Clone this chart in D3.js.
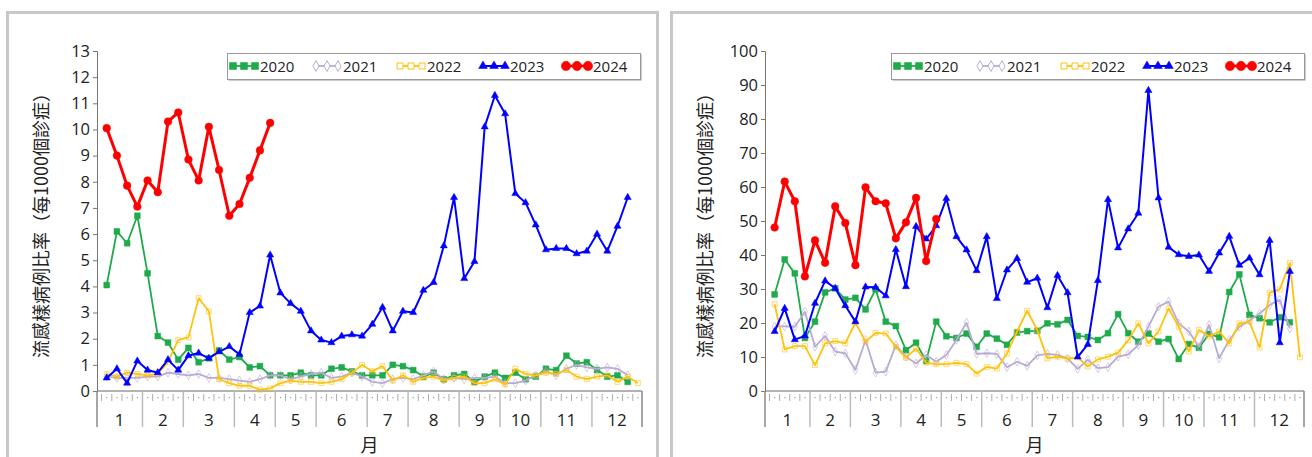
<!DOCTYPE html>
<html lang="zh-Hant">
<head>
<meta charset="utf-8">
<title>流感樣病例比率</title>
<script src="https://d3js.org/d3.v7.min.js"></script>
<style>
body{margin:0;background:#fff;font-family:"Open Sans",sans-serif;}
svg{display:block;}
</style>
</head>
<body>
<div id="chart"></div>
<script>
// --- data (weekly values) ---
var years = ["2020","2021","2022","2023","2024"]
var months = ["1","2","3","4","5","6","7","8","9","10","11","12"]
var monthEnds = [4.5,8.5,13.5,17.5,21.5,26.5,30.5,35.5,39.5,43.5,48.5,53.4]
var leftTicks = [0,1,2,3,4,5,6,7,8,9,10,11,12,13]
var rightTicks = [0,10,20,30,40,50,60,70,80,90,100]

var left2020 = [4.05,6.1,5.65,6.7,4.5,2.1,1.85,1.2,1.65,1.1,1.25,1.55,1.2,1.3,0.9,0.95,0.6,0.6,0.6,0.7,0.6,0.6,0.85,0.9,0.75,0.6,
  0.6,0.6,1.0,0.95,0.8,0.55,0.7,0.45,0.6,0.65,0.35,0.55,0.7,0.5,0.7,0.45,0.55,0.85,0.8,1.35,1.05,1.1,0.8,0.55,0.6,0.35]
var left2021 = [0.55,0.5,0.5,0.5,0.55,0.55,0.7,0.65,0.6,0.65,0.5,0.5,0.45,0.4,0.35,0.45,0.6,0.6,0.45,0.55,0.65,0.7,0.5,0.55,0.7,0.55,
  0.35,0.3,0.45,0.5,0.45,0.6,0.75,0.45,0.5,0.45,0.5,0.5,0.55,0.3,0.3,0.4,0.6,0.75,0.6,0.85,1.0,0.9,0.85,0.9,0.85,0.6]
var left2022 = [0.65,0.55,0.7,0.65,0.6,0.65,1.1,1.95,2.05,3.55,3.05,0.45,0.3,0.2,0.2,0.05,0.1,0.3,0.4,0.35,0.35,0.3,0.35,0.45,0.7,1.0,
  0.75,0.95,0.4,0.6,0.35,0.5,0.55,0.4,0.5,0.55,0.3,0.3,0.45,0.25,0.85,0.65,0.6,0.7,0.65,0.8,0.55,0.45,0.55,0.6,0.35,0.55,0.3]
var left2023 = [0.5,0.85,0.3,1.15,0.8,0.7,1.2,0.8,1.35,1.45,1.25,1.5,1.7,1.4,3.0,3.25,5.2,3.75,3.35,3.05,2.3,1.95,1.85,2.1,2.15,2.1,
  2.55,3.2,2.3,3.05,3.0,3.85,4.15,5.55,7.4,4.3,4.95,10.1,11.3,10.6,7.55,7.2,6.35,5.4,5.45,5.45,5.25,5.35,6.0,5.35,6.3,7.4]
var left2024 = [10.05,9.0,7.85,7.05,8.05,7.6,10.3,10.65,8.85,8.05,10.1,8.45,6.7,7.15,8.15,9.2,10.25]

var right2020 = [28.4,38.7,34.6,15.6,20.4,29,30.2,26.9,27.4,24,29.9,20.4,19.1,12,14.2,8.8,20.4,16.1,15.6,16.9,13,16.9,15.4,13.6,17.2,17.6,
  17.7,19.9,19.6,20.9,16.2,15.9,15,17,22.6,17,14.5,16.9,14.5,15.3,9.4,13.8,12.7,16.8,15.8,29.1,34.3,22.4,21.4,20.2,21.7,20.2]
var right2021 = [19,19,18.9,23.3,13,16.2,11.6,11.1,6.2,15,5.4,5.7,13.5,10.1,8.1,10.6,8.6,10.6,15,20.1,10.9,11.1,10.9,7,8.6,7.4,
  10.5,10.9,10.6,9.6,6.5,9.2,6.7,7,10.1,10.8,13.5,18.9,24.8,26.3,19.9,17.5,13,19.4,9.6,15,18.9,20.7,22.8,25.3,26.8,18.4]
var right2022 = [25.5,12.2,13.2,13.2,7.6,14,14.7,14,20.1,14.5,17.1,16.9,13,9.8,12.5,8.3,7.9,7.9,8.3,7.9,5.1,7.1,6.6,11,17.5,23.6,
  17.9,9.6,10.1,9.5,9.9,7.2,9.3,10.1,11.3,14.9,19.9,14,17.5,24.3,18.9,11.6,18,16,17.5,14,19.9,20.4,12.8,28.9,29.9,37.7,9.9]
var right2023 = [17.5,24.3,15.1,16.2,25.8,32.4,30.2,25.1,20.4,30.6,30.5,28,41.6,30.7,48.4,44.7,48.6,56.6,45.4,41.5,35.4,45.4,27.2,35.6,39,32,
  33.2,24.5,34,28.9,10,13.7,32.5,56.3,42.1,47.7,52.3,88.4,56.8,42.3,40.1,39.6,40,35.2,40.6,45.5,37,39.1,34.2,44.3,14.2,35.2]
var right2024 = [48.1,61.6,55.8,33.7,44.3,37.7,54.3,49.4,37,59.9,55.8,55.2,44.9,49.6,56.8,38.2,50.6]

// --- styles ---
var yearStyle = {
  "2020": {color:"#1faa4b", width:1.8, symbol:d3.symbolSquare, size:34, hollow:false},
  "2021": {color:"#b9abd4", width:1.8, symbol:d3.symbolDiamond, size:22, hollow:true},
  "2022": {color:"#ffc20e", width:1.8, symbol:d3.symbolSquare, size:24, hollow:true},
  "2023": {color:"#0000ff", width:2, symbol:d3.symbolTriangle, size:22, hollow:false},
  "2024": {color:"#ff0000", width:3, symbol:d3.symbolCircle, size:46, hollow:false}
}

var W = 1312, H = 457
var svg = d3.select("#chart").append("svg").attr("width", W).attr("height", H)

// panel frames
svg.append("rect").attr("x",7.5).attr("y",12.5).attr("width",650).attr("height",470)
  .attr("fill","none").attr("stroke","#c8c8c8").attr("stroke-width",3)
svg.append("rect").attr("x",671.5).attr("y",12.5).attr("width",660).attr("height",470)
  .attr("fill","none").attr("stroke","#c8c8c8").attr("stroke-width",3)

drawPanel({x0:97, x1:642, top:51, bottom:391, max:13, ticks:leftTicks, titleX:40,
  series:[left2020,left2021,left2022,left2023,left2024], legendX:227})
drawPanel({x0:765, x1:1304, top:51, bottom:391, max:100, ticks:rightTicks, titleX:704,
  series:[right2020,right2021,right2022,right2023,right2024], legendX:891})

function drawPanel(p){
  var g = svg.append("g")
  var x = d3.scaleLinear().domain([0.05,53.4]).range([p.x0,p.x1])
  var y = d3.scaleLinear().domain([0,p.max]).range([p.bottom,p.top])

  // y axis
  var yAxis = d3.axisLeft(y).tickValues(p.ticks).tickSize(4).tickPadding(3)
  var ya = g.append("g").attr("transform","translate("+p.x0+",0)").call(yAxis)
  ya.select(".domain").attr("stroke","#777")
  ya.selectAll(".tick line").attr("stroke","#777")
  ya.selectAll(".tick text").attr("font-family","Open Sans").attr("font-size",16.5).attr("fill","#222")

  // x axis band
  g.append("line").attr("x1",p.x0).attr("x2",p.x1).attr("y1",p.bottom).attr("y2",p.bottom).attr("stroke","#666")
  var bounds = [0.05].concat(monthEnds)
  g.selectAll(".mline").data(bounds).enter().append("line")
    .attr("x1",function(d){return x(d)}).attr("x2",function(d){return x(d)})
    .attr("y1",p.bottom).attr("y2",p.bottom+36)
    .attr("stroke",function(d,i){return (i==0||i==bounds.length-1)?"#888":"#bbb"}).attr("stroke-width",1.5)
  var wk = d3.range(0.5,53,1)
  g.selectAll(".wtick").data(wk.filter(function(d){return monthEnds.indexOf(d)<0})).enter().append("line")
    .attr("x1",function(d){return x(d)}).attr("x2",function(d){return x(d)})
    .attr("y1",p.bottom+3).attr("y2",p.bottom+10).attr("stroke","#aaa")
  g.selectAll(".wdot").data(d3.range(1,54)).enter().append("rect")
    .attr("x",function(d){return x(d)-0.5}).attr("y",p.bottom+6).attr("width",1.2).attr("height",1.2).attr("fill","#999")
  g.selectAll(".mlab").data(months).enter().append("text")
    .attr("x",function(d,i){return x((bounds[i]+bounds[i+1])/2)})
    .attr("y",p.bottom+35).attr("text-anchor","middle")
    .attr("font-size",17).attr("fill","#222").text(function(d){return d})

  // axis titles
  g.append("text").attr("x",(p.x0+p.x1)/2).attr("y",452).attr("text-anchor","middle")
    .attr("font-family","Noto Sans CJK TC").attr("font-size",18).attr("fill","#222").text("月")
  g.append("text").attr("transform","translate("+p.titleX+","+221+") rotate(-90)")
    .attr("text-anchor","middle").attr("dominant-baseline","central")
    .attr("font-family","Noto Sans CJK TC").attr("font-size",18).attr("fill","#222")
    .text("流感樣病例比率（每1000個診症）")

  // series
  var line = d3.line().x(function(d,i){return x(i+1)}).y(function(d){return y(d)})
  p.series.forEach(function(vals,k){
    var st = yearStyle[years[k]]
    g.append("path").datum(vals).attr("d",line).attr("fill","none")
      .attr("stroke",st.color).attr("stroke-width",st.width).attr("stroke-linejoin","round")
    g.selectAll(".m"+k).data(vals).enter().append("path")
      .attr("d",d3.symbol().type(st.symbol).size(st.size))
      .attr("transform",function(d,i){return "translate("+x(i+1)+","+y(d)+")"})
      .attr("fill",st.hollow?"#fff":st.color).attr("fill-opacity",st.hollow?0:1)
      .attr("stroke",st.color).attr("stroke-width",st.hollow?1:0.5).attr("stroke-opacity",st.hollow?0.6:1)
  })

  // legend
  var lg = g.append("g").attr("transform","translate("+p.legendX+",53)")
  lg.append("rect").attr("x",1.5).attr("y",1.5).attr("width",413).attr("height",26).attr("fill","#999")
  lg.append("rect").attr("x",0.5).attr("y",0.5).attr("width",413).attr("height",26).attr("fill","#fff").attr("stroke","#999")
  var offs = [3,86,170,253,336]
  years.forEach(function(yr,k){
    var st = yearStyle[yr]
    var e = lg.append("g").attr("transform","translate("+offs[k]+",13)")
    e.append("line").attr("x1",2).attr("x2",26).attr("y1",0).attr("y2",0)
      .attr("stroke",st.color).attr("stroke-width",Math.min(st.width,2.5))
    ;[3,14,25].forEach(function(mx){
      e.append("path").attr("d",d3.symbol().type(st.symbol).size(st.size*1.5))
        .attr("transform","translate("+mx+",0)")
        .attr("fill",st.hollow?"#fff":st.color)
        .attr("stroke",st.color).attr("stroke-width",st.hollow?1:0.5)
    })
    e.append("text").attr("x",30).attr("y",0).attr("dominant-baseline","central")
      .attr("font-size",15).attr("fill","#222").text(yr)
  })
}
</script>
</body>
</html>
